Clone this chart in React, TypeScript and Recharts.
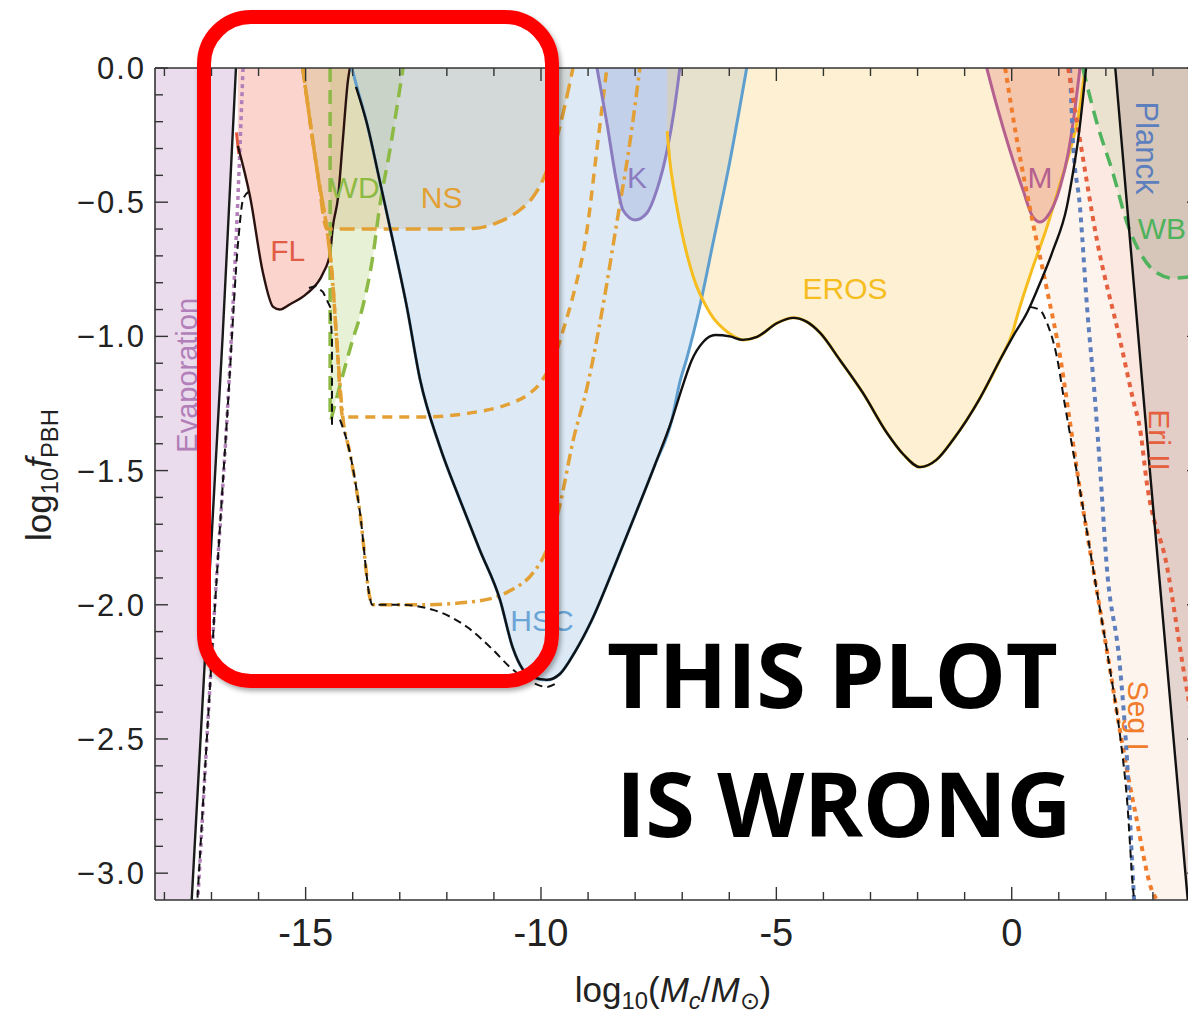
import { ComposedChart, Area, Line, XAxis, YAxis, ReferenceDot } from "recharts";

type Pt = [number, number];

// axis ticks
const xTicks = [-18, -17, -16, -15, -14, -13, -12, -11, -10, -9, -8, -7, -6, -5, -4, -3, -2, -1, 0, 1, 2, 3];
const xMajor = [-15, -10, -5, 0];
const yTicks = [
  -3.0, -2.9, -2.8, -2.7, -2.6, -2.5, -2.4, -2.3, -2.2, -2.1, -2.0, -1.9, -1.8, -1.7, -1.6, -1.5,
  -1.4, -1.3, -1.2, -1.1, -1.0, -0.9, -0.8, -0.7, -0.6, -0.5, -0.4, -0.3, -0.2, -0.1, 0,
];

// constraint curves: [log10 Mc, log10 fPBH]
const evapLine: Pt[] = [[-17.42, -3.1], [-16.76, -0.99], [-16.48, 0]];
const evapFill: Pt[] = [[-18.2, -3.1], [-17.42, -3.1], [-16.76, -0.99], [-16.48, 0]];
const evapDotted: Pt[] = [[-16.33, 0], [-16.44, -0.49], [-16.65, -1.24], [-16.95, -2.06], [-17.29, -3.1]];
const envDashLeft: Pt[] = [[-16.2, -0.46], [-16.33, -0.49], [-16.42, -0.62], [-16.65, -1.25], [-16.95, -2.07], [-17.3, -3.1]];

const flCurve: Pt[] = [
  [-16.44, -0.29], [-16.18, -0.48], [-15.91, -0.76], [-15.69, -0.89], [-15.55, -0.9], [-15.33, -0.88],
  [-14.97, -0.84], [-14.63, -0.765], [-14.48, -0.69], [-14.42, -0.59], [-14.31, -0.48], [-14.21, -0.27],
  [-14.1, -0.045], [-14.06, 0],
];
const flRed: Pt[] = [[-16.47, -0.24], [-16.42, -0.32]];

const wdLeft: Pt[] = [[-14.48, 0], [-14.48, -1.31]];
const wdRight: Pt[] = [
  [-14.46, -1.31], [-14.25, -1.17], [-14.03, -1.03], [-13.76, -0.87], [-13.57, -0.7], [-13.43, -0.52],
  [-13.21, -0.306], [-12.93, 0],
];
const wdFill: Pt[] = [
  [-14.48, -1.31], [-14.25, -1.17], [-14.03, -1.03], [-13.76, -0.87], [-13.57, -0.7], [-13.43, -0.52],
  [-13.21, -0.306], [-12.93, 0],
];

const nsA: Pt[] = [
  [-15.06, 0], [-14.91, -0.194], [-14.74, -0.399], [-14.55, -0.6], [-12.5, -0.6], [-11.44, -0.598],
  [-10.94, -0.577], [-10.45, -0.529], [-10.17, -0.481], [-9.96, -0.417], [-9.81, -0.35], [-9.53, -0.168],
  [-9.32, 0],
];
const nsB: Pt[] = [
  [-15.06, 0], [-14.91, -0.194], [-14.74, -0.399], [-14.55, -0.6], [-14.44, -0.764], [-14.34, -1.013],
  [-14.21, -1.3], [-12.5, -1.3], [-11.57, -1.287], [-10.66, -1.25], [-10.3, -1.22], [-9.96, -1.16],
  [-9.7, -1.07], [-9.5, -0.96], [-9.32, -0.85], [-9.02, -0.6], [-8.81, -0.3], [-8.6, 0],
];
const nsC: Pt[] = [
  [-15.06, 0], [-14.91, -0.194], [-14.74, -0.399], [-14.55, -0.6], [-14.44, -0.764], [-14.34, -1.013],
  [-14.21, -1.3], [-14.06, -1.434], [-13.85, -1.651], [-13.63, -1.978], [-13.59, -2.0], [-12.5, -2.0],
  [-11.3, -1.985], [-10.66, -1.948], [-10.17, -1.881], [-9.88, -1.796], [-9.6, -1.63], [-9.32, -1.39],
  [-9.02, -1.189], [-8.68, -0.883], [-8.39, -0.577], [-8.11, -0.276], [-7.9, 0],
];

const hsc: Pt[] = [
  [-14.02, 0], [-13.91, -0.071], [-13.7, -0.205], [-13.43, -0.417], [-13.15, -0.641], [-12.85, -0.89],
  [-12.57, -1.16], [-12.15, -1.41], [-11.72, -1.61], [-11.3, -1.796], [-10.87, -1.982], [-10.6, -2.16],
  [-10.39, -2.24], [-10.17, -2.27], [-9.88, -2.28], [-9.6, -2.258], [-9.28, -2.176], [-8.92, -2.057],
  [-8.47, -1.87], [-8.0, -1.665], [-7.58, -1.479], [-7.22, -1.311], [-7.05, -1.17], [-6.9, -1.08],
  [-6.62, -0.883], [-6.35, -0.656], [-5.99, -0.35], [-5.63, 0],
];

const kCurve: Pt[] = [
  [-8.81, 0], [-8.6, -0.205], [-8.39, -0.428], [-8.26, -0.529], [-8.0, -0.566], [-7.75, -0.54],
  [-7.54, -0.455], [-7.32, -0.306], [-7.16, -0.145], [-7.05, 0],
];

const eros: Pt[] = [
  [-7.32, -0.235], [-7.26, -0.35], [-7.17, -0.46], [-7.05, -0.577], [-6.77, -0.775], [-6.41, -0.913],
  [-5.99, -0.99], [-5.71, -1.013], [-5.41, -1.002], [-4.98, -0.95], [-4.64, -0.931], [-4.35, -0.946],
  [-4.07, -0.987], [-3.65, -1.088], [-3.16, -1.211], [-2.65, -1.36], [-2.3, -1.44], [-1.95, -1.487],
  [-1.6, -1.46], [-1.25, -1.386], [-0.67, -1.229], [-0.25, -1.088], [0.03, -0.98], [0.11, -0.928],
  [0.45, -0.742], [0.75, -0.592], [1.03, -0.428], [1.3, -0.268], [1.45, -0.145], [1.56, 0],
];

const mCurve: Pt[] = [
  [-0.53, 0], [-0.31, -0.145], [-0.04, -0.306], [0.24, -0.455], [0.45, -0.555], [0.6, -0.574],
  [0.75, -0.555], [1.03, -0.443], [1.2, -0.317], [1.32, -0.183], [1.45, 0],
];

// the black envelope (solid) and the corrected envelope (dashed)
const envelope: Pt[] = [
  [-13.93, -0.07], [-13.7, -0.205], [-13.43, -0.417], [-13.15, -0.641], [-12.85, -0.89], [-12.57, -1.16],
  [-12.15, -1.41], [-11.72, -1.61], [-11.3, -1.796], [-10.87, -1.982], [-10.6, -2.16], [-10.39, -2.24],
  [-10.17, -2.27], [-9.88, -2.28], [-9.6, -2.258], [-9.28, -2.176], [-8.92, -2.057], [-8.47, -1.87],
  [-8.0, -1.665], [-7.58, -1.479], [-7.22, -1.311], [-7.0, -1.19], [-6.8, -1.09], [-6.55, -1.02],
  [-6.3, -0.995], [-5.99, -1.0], [-5.71, -1.013], [-5.41, -1.002], [-4.98, -0.95], [-4.64, -0.931],
  [-4.35, -0.946], [-4.07, -0.987], [-3.65, -1.088], [-3.16, -1.211], [-2.65, -1.36], [-2.3, -1.44],
  [-1.95, -1.487], [-1.6, -1.46], [-1.25, -1.386], [-0.67, -1.229], [-0.25, -1.088], [0.03, -0.999],
  [0.33, -0.91], [0.54, -0.827], [0.88, -0.678], [1.17, -0.518], [1.3, -0.391], [1.41, -0.268],
  [1.51, -0.119], [1.58, 0],
];
const envDashMid1: Pt[] = [[-14.93, -0.82], [-14.78, -0.812], [-14.63, -0.835], [-14.48, -0.89], [-14.44, -1.01], [-14.44, -1.33]];
const envDashMid2: Pt[] = [
  [-14.27, -1.31], [-14.06, -1.434], [-13.85, -1.651], [-13.63, -1.978], [-13.59, -2.0], [-13.0, -2.0],
  [-12.29, -2.019], [-11.57, -2.083], [-11.02, -2.168], [-10.66, -2.232], [-10.17, -2.291], [-9.88, -2.306],
  [-9.66, -2.291],
];
const envDashRight: Pt[] = [
  [0.39, -0.89], [0.6, -0.902], [0.75, -0.95], [0.96, -1.077], [1.13, -1.256], [1.45, -1.572],
  [1.77, -1.908], [2.09, -2.243], [2.3, -2.485], [2.45, -2.727], [2.58, -3.063], [2.6, -3.1],
];

const segI: Pt[] = [
  [-0.14, 0], [0.11, -0.268], [0.45, -0.577], [0.75, -0.827], [1.03, -1.077], [1.2, -1.275], [1.45, -1.572],
  [1.77, -1.908], [2.09, -2.243], [2.3, -2.47], [2.62, -2.77], [3.0, -3.074], [3.09, -3.1],
];
const segIFill: Pt[] = [
  [-0.14, 0], [0.11, -0.268], [0.45, -0.577], [0.75, -0.827], [1.03, -1.077], [1.2, -1.275], [1.45, -1.572],
  [1.77, -1.908], [2.09, -2.243], [2.3, -2.47], [2.62, -2.77], [3.0, -3.074], [3.09, -3.1], [4.0, -3.1],
];
const blueDotted: Pt[] = [
  [1.24, 0], [1.3, -0.268], [1.45, -0.518], [1.6, -0.89], [1.77, -1.237], [1.88, -1.5], [2.02, -1.859],
  [2.3, -2.232], [2.45, -2.578], [2.58, -3.036], [2.6, -3.1],
];
const eriII: Pt[] = [
  [1.2, 0], [1.45, -0.268], [1.81, -0.641], [2.3, -1.013], [2.58, -1.237], [2.73, -1.349], [2.87, -1.546],
  [3.3, -1.859], [3.64, -2.232], [4.0, -2.6],
];
const wb: Pt[] = [
  [1.51, 0], [1.81, -0.205], [2.15, -0.391], [2.45, -0.577], [2.73, -0.689], [3.09, -0.764], [3.43, -0.783],
  [3.74, -0.779], [4.0, -0.775],
];
const planck: Pt[] = [[2.2, 0], [2.88, -1.39], [3.74, -3.1], [4.0, -3.1]];

const rows = (pts: Pt[]) => pts.map(([x, y]) => ({ x, y }));

const frame = "#333";

function BottomTick(props: any) {
  const { x, y, payload } = props;
  const v = payload.value as number;
  const major = xMajor.includes(v);
  return (
    <g>
      <line x1={x} x2={x} y1={y} y2={y - (major ? 13 : 8)} stroke={frame} strokeWidth={1.4} />
      {major && (
        <text x={x} y={y + 46} textAnchor="middle" fontSize={38} fill="#222">
          {v < 0 ? "-" + Math.abs(v) : String(v)}
        </text>
      )}
    </g>
  );
}

function TopTick(props: any) {
  const { x, y, payload } = props;
  const major = xMajor.includes(payload.value);
  return <line x1={x} x2={x} y1={y} y2={y + (major ? 13 : 8)} stroke={frame} strokeWidth={1.4} />;
}

const isHalf = (v: number) => Math.abs(v * 2 - Math.round(v * 2)) < 1e-6;

function LeftTick(props: any) {
  const { x, y, payload } = props;
  const v = payload.value as number;
  const major = isHalf(v);
  return (
    <g>
      <line x1={x} x2={x + (major ? 13 : 8)} y1={y} y2={y} stroke={frame} strokeWidth={1.4} />
      {major && (
        <text x={x - 9} y={y + 11} textAnchor="end" fontSize={31} letterSpacing={2} fill="#222">
          {Math.abs(v) < 1e-9 ? "0.0" : "\u2212" + Math.abs(v).toFixed(1)}
        </text>
      )}
    </g>
  );
}

function RightTick(props: any) {
  const { x, y, payload } = props;
  const major = isHalf(payload.value);
  return <line x1={x} x2={x - (major ? 13 : 8)} y1={y} y2={y} stroke={frame} strokeWidth={1.4} />;
}

const fill = (key: string, pts: Pt[], color: string, type: "linear" | "monotone" = "linear") => (
  <Area
    key={key}
    data={rows(pts)}
    dataKey="y"
    xAxisId="b"
    yAxisId="l"
    type={type}
    baseValue={0}
    stroke="none"
    fill={color}
    fillOpacity={1}
    activeDot={false}
    dot={false}
    isAnimationActive={false}
  />
);

const curve = (
  key: string,
  pts: Pt[],
  color: string,
  width: number,
  dash?: string,
  type: "linear" | "monotone" = "monotone"
) => (
  <Line
    key={key}
    data={rows(pts)}
    dataKey="y"
    xAxisId="b"
    yAxisId="l"
    type={type}
    stroke={color}
    strokeWidth={width}
    strokeDasharray={dash}
    dot={false}
    activeDot={false}
    isAnimationActive={false}
  />
);

const tag = (key: string, x: number, y: number, text: string, color: string, angle = 0, size = 30) => (
  <ReferenceDot
    key={key}
    x={x}
    y={y}
    r={0}
    xAxisId="b"
    yAxisId="l"
    fill="none"
    stroke="none"
    label={{ value: text, position: "center", fill: color, fontSize: size, angle }}
  />
);

const sub: React.CSSProperties = { fontSize: "0.68em", position: "relative", top: "0.3em" };

const bigText: React.CSSProperties = {
  position: "absolute",
  fontFamily: "'Open Sans', sans-serif",
  fontWeight: 700,
  fontSize: 90,
  letterSpacing: -0.5,
  lineHeight: "90px",
  color: "#000",
  whiteSpace: "nowrap",
};

export default function App() {
  return (
    <div
      style={{
        position: "absolute",
        left: 0,
        top: 0,
        width: 1188,
        height: 1014,
        overflow: "hidden",
        background: "#fff",
        fontFamily: "'Liberation Sans', Arial, sans-serif",
      }}
    >
      <ComposedChart width={1230} height={1014} margin={{ top: 67, right: 29, bottom: 113, left: 154 }}>
        <XAxis
          xAxisId="b"
          type="number"
          dataKey="x"
          domain={[-18.2, 4]}
          allowDataOverflow
          ticks={xTicks}
          interval={0}
          height={1}
          tickSize={0}
          tickMargin={0}
          tickLine={false}
          tick={<BottomTick />}
          axisLine={{ stroke: frame, strokeWidth: 1.6 }}
        />
        <XAxis
          xAxisId="t"
          orientation="top"
          type="number"
          dataKey="x"
          domain={[-18.2, 4]}
          allowDataOverflow
          ticks={xTicks}
          interval={0}
          height={1}
          tickSize={0}
          tickMargin={0}
          tickLine={false}
          tick={<TopTick />}
          axisLine={{ stroke: frame, strokeWidth: 1.6 }}
        />
        <YAxis
          yAxisId="l"
          type="number"
          domain={[-3.1, 0]}
          allowDataOverflow
          ticks={yTicks}
          interval={0}
          width={1}
          tickSize={0}
          tickMargin={0}
          tickLine={false}
          tick={<LeftTick />}
          axisLine={{ stroke: frame, strokeWidth: 1.6 }}
        />
        <YAxis
          yAxisId="r"
          orientation="right"
          type="number"
          domain={[-3.1, 0]}
          allowDataOverflow
          ticks={yTicks}
          interval={0}
          width={1}
          tickSize={0}
          tickMargin={0}
          tickLine={false}
          tick={<RightTick />}
          axisLine={{ stroke: frame, strokeWidth: 1.6 }}
        />

        {fill("evapF", evapFill, "rgba(185,140,195,0.3)")}
        {fill("flF", flCurve, "rgba(240,120,100,0.32)", "monotone")}
        {fill("wdF", wdFill, "rgba(140,190,70,0.22)")}
        {fill("nsF", nsA, "rgba(215,190,140,0.4)", "monotone")}
        {fill("hscF", hsc, "rgba(160,196,230,0.36)", "monotone")}
        {fill("kF", kCurve, "rgba(120,130,200,0.25)", "monotone")}
        {fill("erosF", eros, "rgba(250,205,110,0.3)", "monotone")}
        {fill("mF", mCurve, "rgba(225,120,110,0.3)", "monotone")}
        {fill("segF", segIFill, "rgba(250,175,135,0.14)", "monotone")}
        {fill("eriF", eriII, "rgba(235,120,95,0.09)", "monotone")}
        {fill("wbF", wb, "rgba(130,180,100,0.14)", "monotone")}
        {fill("planckF", planck, "rgba(140,105,110,0.22)")}

        {curve("evapDot", evapDotted, "#b27fb9", 3.5, "4 4")}
        {curve("evapL", evapLine, "#1a1a1a", 2.4)}
        {curve("envL", envDashLeft, "#111", 2, "8 5")}
        {curve("flRed", flRed, "#e2583f", 3, undefined, "linear")}
        {curve("flL", flCurve, "#2a1210", 2.4)}
        {curve("wdL", wdLeft, "#8dba44", 3.5, "14 8", "linear")}
        {curve("wdR", wdRight, "#8dba44", 3.5, "14 8")}
        {curve("nsA", nsA, "#e2a035", 3.5, "15 7")}
        {curve("nsB", nsB, "#e2a035", 3.5, "10 7")}
        {curve("nsC", nsC, "#e2a035", 3.5, "12 5 3 5")}
        {curve("hscL", hsc, "#5e9fcf", 3)}
        {curve("kL", kCurve, "#8b7cc0", 3)}
        {curve("erosL", eros, "#f6bd1f", 3)}
        {curve("mL", mCurve, "#b5608f", 3)}
        {curve("segL", segI, "#f07c2c", 4, "5 5")}
        {curve("blueL", blueDotted, "#5d7fbd", 4, "5 5")}
        {curve("eriL", eriII, "#e5603f", 4, "5 5")}
        {curve("wbL", wb, "#4fb25c", 3.5, "14 8")}
        {curve("planckL", planck, "#111", 2.4, undefined, "linear")}
        {curve("envM1", envDashMid1, "#111", 2, "8 5", "linear")}
        {curve("envM2", envDashMid2, "#111", 2, "8 5")}
        {curve("envR", envDashRight, "#111", 2, "8 5")}
        {curve("env", envelope, "#111", 2.4)}

        {tag("t-fl", -15.38, -0.678, "FL", "#e25c45")}
        {tag("t-wd", -13.96, -0.443, "WD", "#8dba44")}
        {tag("t-ns", -12.11, -0.481, "NS", "#e2a035")}
        {tag("t-k", -7.96, -0.406, "K", "#8b7cc0")}
        {tag("t-hsc", -9.98, -2.057, "HSC", "#6ba5d6")}
        {tag("t-eros", -3.54, -0.82, "EROS", "#f6bd1f")}
        {tag("t-m", 0.6, -0.406, "M", "#b5608f")}
        {tag("t-planck", 2.88, -0.298, "Planck", "#5d7fbd", 90, 31)}
        {tag("t-wb", 3.19, -0.596, "WB", "#4fb25c")}
        {tag("t-eri", 3.15, -1.386, "Eri II", "#e5603f", 90)}
        {tag("t-seg", 2.69, -2.414, "Seg I", "#f07c2c", 90)}
        {tag("t-evap", -17.52, -1.145, "Evaporation", "#b27fb9", -90, 29)}
      </ComposedChart>

      {/* axis titles */}
      <div
        style={{
          position: "absolute",
          left: 38,
          top: 475,
          transform: "translate(-50%, -50%) rotate(-90deg)",
          fontSize: 35,
          whiteSpace: "nowrap",
          color: "#222",
          lineHeight: 1,
        }}
      >
        log<span style={sub}>10</span>
        <i>f</i>
        <span style={sub}>PBH</span>
      </div>
      <div
        style={{
          position: "absolute",
          left: 673,
          top: 972,
          transform: "translateX(-50%)",
          fontSize: 35,
          whiteSpace: "nowrap",
          color: "#222",
          lineHeight: 1,
        }}
      >
        log<span style={sub}>10</span>(<i>M</i>
        <span style={sub}>
          <i>c</i>
        </span>
        /<i>M</i>
        <span style={sub}>⊙</span>)
      </div>

      {/* annotation */}
      <div
        style={{
          position: "absolute",
          left: 197,
          top: 10,
          width: 362,
          height: 678,
          boxSizing: "border-box",
          border: "14px solid #ff0000",
          borderRadius: 54,
          boxShadow: "2px 3px 5px rgba(0,0,0,0.35)",
        }}
      />
      <div style={{ ...bigText, left: 607, top: 628 }}>THIS PLOT</div>
      <div style={{ ...bigText, left: 616, top: 757 }}>IS WRONG</div>
    </div>
  );
}
